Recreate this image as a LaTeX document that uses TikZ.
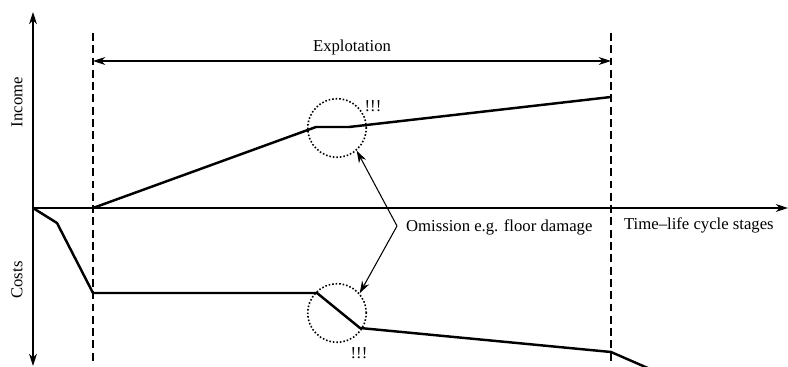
\documentclass[tikz,border=0pt]{standalone}
\usepackage{fontspec}
\setmainfont{Liberation Serif}
\usetikzlibrary{arrows.meta}
\begin{document}
\begin{tikzpicture}[x=0.02cm, y=-0.02cm,
    axis/.style={line width=0.6pt, -{Stealth[length=7pt,width=4.5pt]}},
    curve/.style={line width=1.4pt, line join=round},
    stage/.style={line width=0.6pt, dash pattern=on 4.5pt off 2.5pt},
    ring/.style={circle, draw, line width=0.9pt, dash pattern=on 0.9pt off 1.1pt, minimum size=1.17cm, inner sep=0pt},
    lbl/.style={font=\fontsize{9.5}{11}\selectfont, inner sep=1pt}]
    \useasboundingbox (0,0) rectangle (788,367);
    % Axes
    \coordinate (O) at (33,208);
    \coordinate (top) at (33,12);
    \coordinate (bot) at (33,366);
    \coordinate (right) at (788,208);
    \draw[axis] (O) -- (top);
    \draw[axis] (O) -- (bot);
    \draw[axis] (O) -- (right);
    \node[lbl, rotate=90] (income) at (17,102) {Income};
    \node[lbl, rotate=90] (costs) at (17,280) {Costs};
    \node[lbl, anchor=west] (time) at (622,225) {Time--life cycle stages};
    % Stage borders
    \foreach \x/\n in {93/start,611/end} {
        \coordinate (\n-t) at (\x,33);
        \coordinate (\n-b) at (\x,361);
        \draw[stage] (\n-t) -- (\n-b);
    }
    % Explotation arrow and label
    \coordinate (ex-l) at (93,61);
    \coordinate (ex-r) at (611,61);
    \draw[line width=0.6pt, {Stealth[length=7pt,width=4.5pt]}-{Stealth[length=7pt,width=4.5pt]}] (ex-l) -- (ex-r);
    \node[lbl] (explo) at (352,47) {Explotation};
    % Income and costs
    \draw[curve] (93,208) -- (316,127) -- (349,127) -- (611,97);
    \draw[curve] (O) -- (57,223) -- (93,293) -- (317,293) -- (360,328) -- (611,352) -- (650,369);
    % Omission rings
    \node[ring] (ringtop) at (337,128) {};
    \node[ring] (ringbot) at (337,313) {};
    \node[lbl] (warntop) at (373,106) {!!!};
    \node[lbl] (warnbot) at (359,353) {!!!};
    \node[lbl, anchor=west] (omit) at (404,227) {Omission e.g. floor damage};
    \coordinate (fork) at (397,226);
    \draw[line width=0.6pt, -{Stealth[length=7pt,width=4.5pt]}] (fork) -- (ringtop.-49);
    \draw[line width=0.6pt, -{Stealth[length=7pt,width=4.5pt]}] (fork) -- (ringbot.41);
\end{tikzpicture}
\end{document}
